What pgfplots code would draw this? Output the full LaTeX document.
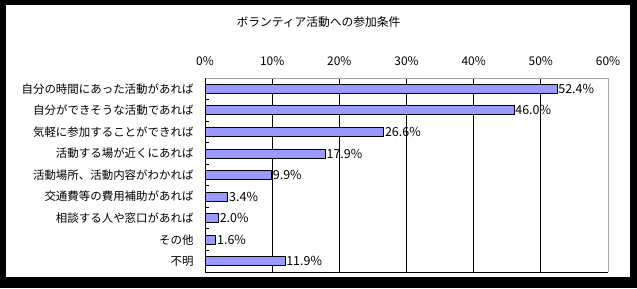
\documentclass[border=0pt]{standalone}
\usepackage{pgfplots}
\pgfplotsset{compat=1.18}
\usepackage{fontspec}
\setmainfont{Noto Sans CJK JP}
\definecolor{barfill}{HTML}{9999FF}
\begin{document}
\begin{tikzpicture}[x=1bp,y=1bp]
\fill[black] (0,0) rectangle (637,288);
\fill[white] (6,11) rectangle (630,283);
\node[font=\fontsize{11.8}{13}\selectfont] at (318.5,266) {ボランティア活動への参加条件};
\begin{axis}[
  at={(205bp,16bp)}, anchor=south west,
  scale only axis, width=403bp, height=194bp,
  xmin=0, xmax=60, ymin=0.5, ymax=9.5,
  y dir=reverse,
  xbar, bar width=9bp,
  xtick={0,10,...,60},
  xticklabel pos=upper,
  xticklabel={\pgfmathprintnumber{\tick}\%},
  x tick label style={font=\fontsize{12}{13}\selectfont, yshift=9bp},
  /pgf/number format/assume math mode=true,
  xmajorgrids, major grid style={black, line width=0.8bp},
  ytick={1,...,9},
  yticklabels={自分の時間にあった活動があれば,自分ができそうな活動であれば,気軽に参加することができれば,活動する場が近くにあれば,活動場所、活動内容がわかれば,交通費等の費用補助があれば,相談する人や窓口があれば,その他,不明},
  y tick label style={font=\fontsize{11.5}{13}\selectfont, xshift=-8bp},
  major tick length=0pt,
  extra y ticks={1.5,2.5,...,8.5},
  extra y tick labels={},
  extra y tick style={major tick length=4bp, tick align=inside, ytick pos=left, tick style={black, line width=0.8bp}},
  axis line style={draw=none},
  nodes near coords={\pgfmathprintnumber[fixed,fixed zerofill,precision=1]{\pgfplotspointmeta}\%},
  nodes near coords style={font=\fontsize{12.5}{13}\selectfont, anchor=west, inner sep=1bp, /pgf/number format/assume math mode=true},
  clip=false,
]
\addplot[fill=barfill, draw=black, line width=0.8bp] coordinates {
(52.4,1) (46.0,2) (26.6,3) (17.9,4) (9.9,5) (3.4,6) (2.0,7) (1.6,8) (11.9,9)};
\draw[gray!70, line width=0.8bp] (axis cs:0,0.5) -- (axis cs:60,0.5) -- (axis cs:60,9.5);
\draw[black, line width=0.8bp] (axis cs:60,9.5) -- (axis cs:0,9.5) -- (axis cs:0,0.5);
\end{axis}
\end{tikzpicture}
\end{document}
